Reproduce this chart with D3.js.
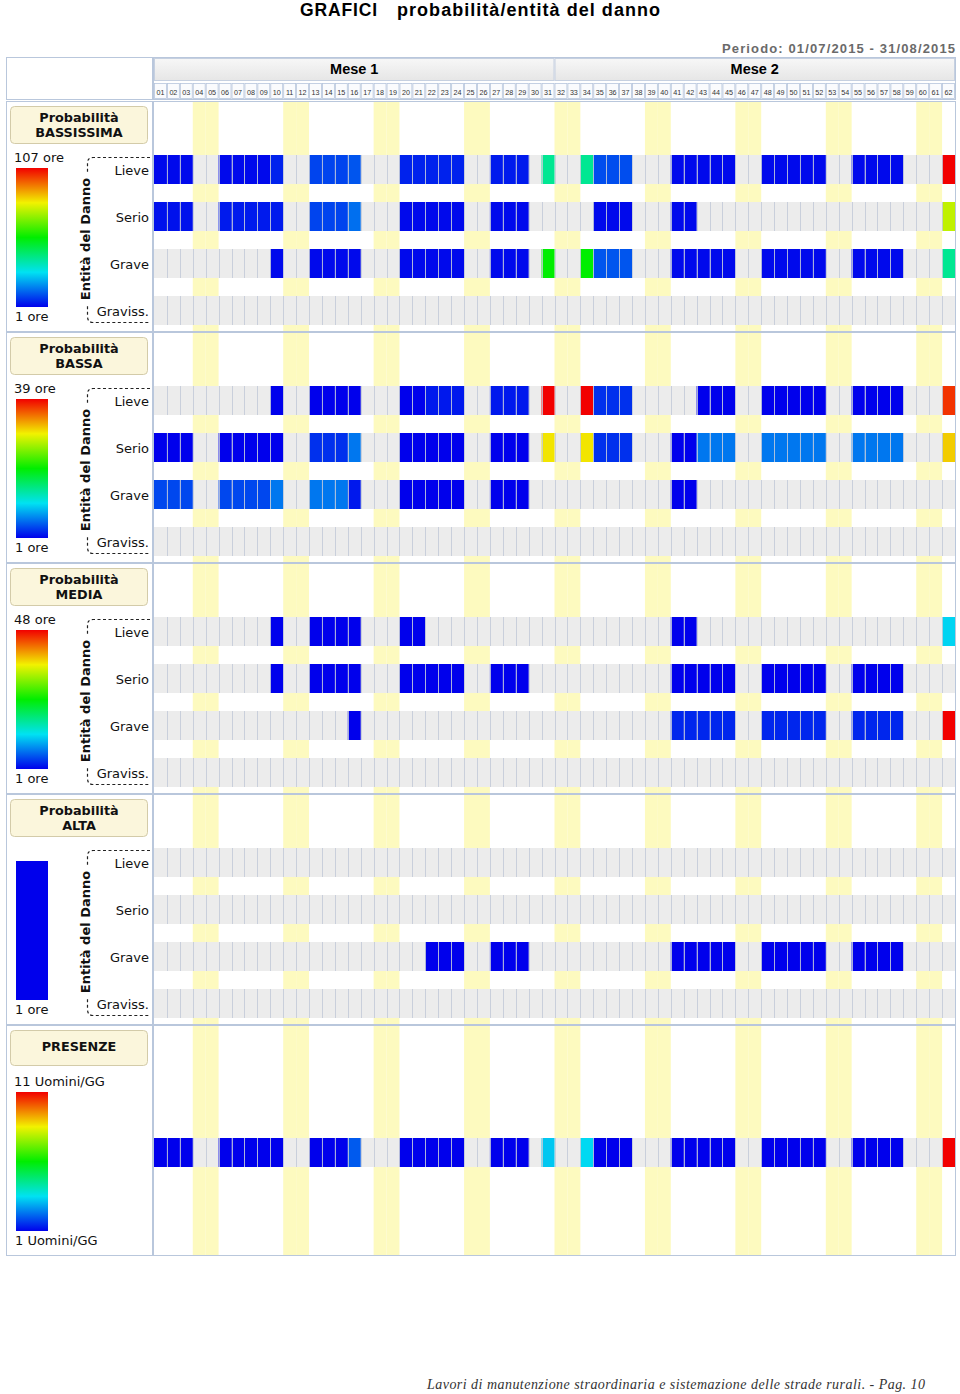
<!DOCTYPE html>
<html><head><meta charset="utf-8">
<script src="https://cdn.jsdelivr.net/npm/d3@7"></script>
<style>body{margin:0;background:#fff}svg{display:block}</style>
</head><body>
<svg id="c" width="960" height="1394"></svg>
<script>
// ---------- DATA ----------
const days = ["01","02","03","04","05","06","07","08","09","10","11","12","13","14","15","16","17","18","19","20","21","22","23","24","25","26","27","28","29","30","31",
              "32","33","34","35","36","37","38","39","40","41","42","43","44","45","46","47","48","49","50","51","52","53","54","55","56","57","58","59","60","61","62"];
const weekendDays = ["04","05","11","12","18","19","25","26","32","33","39","40","46","47","53","54","60","61"];
const months = ["Mese 1","Mese 2"];
const monthFirstDay = ["01","32"];
const monthLastDay = ["31","62"];
const damageLevels = ["Lieve","Serio","Grave","Graviss."];

const panelTitles = [["Probabilità","BASSISSIMA"],["Probabilità","BASSA"],["Probabilità","MEDIA"],["Probabilità","ALTA"],["PRESENZE"]];
const panelMax = [107,39,48,1,11];
const panelMaxLabels = ["107 ore","39 ore","48 ore","","11 Uomini/GG"];
const panelMinLabels = ["1 ore","1 ore","1 ore","1 ore","1 Uomini/GG"];

// Probabilità BASSISSIMA (ore)
const bassissimaLieve   = [2,2,2,0,0,2,2,2,2,5, 0,0,9,9,9,11,0,0,0,5, 5,5,5,5,0,0,4,4,4,0,38, 0,0,38,10,10,10,0,0,0,2, 2,2,2,2,0,0,2,2,2,2, 2,0,0,2,2,2,2,0,0,0,107];
const bassissimaSerio   = [3,3,3,0,0,4,4,4,4,4, 0,0,9,9,9,14,0,0,0,2, 2,2,2,2,0,0,2,2,2,0,0, 0,0,0,2,2,2,0,0,0,2, 2,0,0,0,0,0,0,0,0,0, 0,0,0,0,0,0,0,0,0,0,75];
const bassissimaGrave   = [0,0,0,0,0,0,0,0,0,2, 0,0,2,2,2,2,0,0,0,2, 2,2,2,2,0,0,2,2,2,0,54, 0,0,54,11,11,11,0,0,0,2, 2,2,2,2,0,0,2,2,2,2, 2,0,0,2,2,2,2,0,0,0,38];
const bassissimaGraviss = [0,0,0,0,0,0,0,0,0,0, 0,0,0,0,0,0,0,0,0,0, 0,0,0,0,0,0,0,0,0,0,0, 0,0,0,0,0,0,0,0,0,0, 0,0,0,0,0,0,0,0,0,0, 0,0,0,0,0,0,0,0,0,0,0];
// Probabilità BASSA (ore)
const bassaLieve   = [0,0,0,0,0,0,0,0,0,1, 0,0,1,1,1,1,0,0,0,1, 1,2,2,2,0,0,2,2,2,0,39, 0,0,39,3,3,3,0,0,0,0, 0,1,1,1,0,0,1,1,1,1, 1,0,0,1,1,1,1,0,0,0,37];
const bassaSerio   = [1,1,1,0,0,1,1,1,1,1, 0,0,3,3,3,6,0,0,0,1, 1,1,1,1,0,0,1,1,1,0,30, 0,0,30,3,3,3,0,0,0,1, 1,6,6,6,0,0,6,6,6,6, 6,0,0,6,6,6,6,0,0,0,31];
const bassaGrave   = [4,4,4,0,0,4,4,4,4,6, 0,0,6,6,6,2,0,0,0,1, 1,1,1,1,0,0,1,1,1,0,0, 0,0,0,0,0,0,0,0,0,1, 1,0,0,0,0,0,0,0,0,0, 0,0,0,0,0,0,0,0,0,0,0];
const bassaGraviss = [0,0,0,0,0,0,0,0,0,0, 0,0,0,0,0,0,0,0,0,0, 0,0,0,0,0,0,0,0,0,0,0, 0,0,0,0,0,0,0,0,0,0, 0,0,0,0,0,0,0,0,0,0, 0,0,0,0,0,0,0,0,0,0,0];
// Probabilità MEDIA (ore)
const mediaLieve   = [0,0,0,0,0,0,0,0,0,1, 0,0,1,1,1,1,0,0,0,1, 1,0,0,0,0,0,0,0,0,0,0, 0,0,0,0,0,0,0,0,0,1, 1,0,0,0,0,0,0,0,0,0, 0,0,0,0,0,0,0,0,0,0,12];
const mediaSerio   = [0,0,0,0,0,0,0,0,0,1, 0,0,1,1,1,1,0,0,0,1, 1,1,1,1,0,0,1,1,1,0,0, 0,0,0,0,0,0,0,0,0,1, 1,1,1,1,0,0,1,1,1,1, 1,0,0,1,1,1,1,0,0,0,0];
const mediaGrave   = [0,0,0,0,0,0,0,0,0,0, 0,0,0,0,0,1,0,0,0,0, 0,0,0,0,0,0,0,0,0,0,0, 0,0,0,0,0,0,0,0,0,3, 3,3,3,3,0,0,3,3,3,3, 3,0,0,3,3,3,3,0,0,0,48];
const mediaGraviss = [0,0,0,0,0,0,0,0,0,0, 0,0,0,0,0,0,0,0,0,0, 0,0,0,0,0,0,0,0,0,0,0, 0,0,0,0,0,0,0,0,0,0, 0,0,0,0,0,0,0,0,0,0, 0,0,0,0,0,0,0,0,0,0,0];
// Probabilità ALTA (ore)
const altaLieve   = [0,0,0,0,0,0,0,0,0,0, 0,0,0,0,0,0,0,0,0,0, 0,0,0,0,0,0,0,0,0,0,0, 0,0,0,0,0,0,0,0,0,0, 0,0,0,0,0,0,0,0,0,0, 0,0,0,0,0,0,0,0,0,0,0];
const altaSerio   = [0,0,0,0,0,0,0,0,0,0, 0,0,0,0,0,0,0,0,0,0, 0,0,0,0,0,0,0,0,0,0,0, 0,0,0,0,0,0,0,0,0,0, 0,0,0,0,0,0,0,0,0,0, 0,0,0,0,0,0,0,0,0,0,0];
const altaGrave   = [0,0,0,0,0,0,0,0,0,0, 0,0,0,0,0,0,0,0,0,0, 0,1,1,1,0,0,1,1,1,0,0, 0,0,0,0,0,0,0,0,0,1, 1,1,1,1,0,0,1,1,1,1, 1,0,0,1,1,1,1,0,0,0,0];
const altaGraviss = [0,0,0,0,0,0,0,0,0,0, 0,0,0,0,0,0,0,0,0,0, 0,0,0,0,0,0,0,0,0,0,0, 0,0,0,0,0,0,0,0,0,0, 0,0,0,0,0,0,0,0,0,0, 0,0,0,0,0,0,0,0,0,0,0];
// PRESENZE (Uomini/GG)
const presenze = [1,1,1,0,0,1,1,1,1,1, 0,0,1,1,1,2,0,0,0,1, 1,1,1,1,0,0,1,1,1,0,3.2, 0,0,3.4,1,1,1,0,0,0,1, 1,1,1,1,0,0,1,1,1,1, 1,0,0,1,1,1,1,0,0,0,11];

const panelRows = [
  [bassissimaLieve, bassissimaSerio, bassissimaGrave, bassissimaGraviss],
  [bassaLieve, bassaSerio, bassaGrave, bassaGraviss],
  [mediaLieve, mediaSerio, mediaGrave, mediaGraviss],
  [altaLieve, altaSerio, altaGrave, altaGraviss],
  [presenze]
];

// ---------- DRAW ----------
const svg = d3.select("#c");
const BORDER = "#b9c7dc";
const SANS = "'DejaVu Sans', Verdana, sans-serif";
const ARIAL = "'Liberation Sans', Arial, sans-serif";

const x = d3.scaleBand().domain(days).range([154, 955]);
const bw = x.bandwidth();
const jet = d3.scaleLinear().domain([0, .25, .5, .75, 1])
  .range(["#0000ec", "#00e2f2", "#00ee00", "#f2f200", "#f20000"]);

// gradient for legends
const defs = svg.append("defs");
const grad = defs.append("linearGradient").attr("id", "jet")
  .attr("x1", 0).attr("y1", 1).attr("x2", 0).attr("y2", 0);
grad.selectAll("stop").data(jet.domain()).join("stop")
  .attr("offset", d => d).attr("stop-color", d => jet(d));
const hdrGrad = defs.append("linearGradient").attr("id", "hdr")
  .attr("x1", 0).attr("y1", 0).attr("x2", 0).attr("y2", 1);
hdrGrad.append("stop").attr("offset", 0).attr("stop-color", "#f7f7f7");
hdrGrad.append("stop").attr("offset", 1).attr("stop-color", "#e6e6e6");

// Title
svg.append("text").attr("x", 300).attr("y", 16)
  .attr("font-family", ARIAL).attr("font-weight", "bold").attr("font-size", 17.5)
  .attr("textLength", 77).attr("lengthAdjust", "spacing").text("GRAFICI");
svg.append("text").attr("x", 397).attr("y", 16)
  .attr("font-family", ARIAL).attr("font-weight", "bold").attr("font-size", 18)
  .attr("textLength", 263).attr("lengthAdjust", "spacing").text("probabilità/entità del danno");

// Periodo
svg.append("text").attr("x", 955).attr("y", 53).attr("text-anchor", "end")
  .attr("font-family", ARIAL).attr("font-size", 13).attr("fill", "#6a6a6a").attr("font-weight", "bold")
  .attr("textLength", 233).attr("lengthAdjust", "spacing")
  .text("Periodo: 01/07/2015 - 31/08/2015");

// Header area
svg.append("rect").attr("x", 6.5).attr("y", 57.5).attr("width", 146).attr("height", 42)
  .attr("fill", "#fff").attr("stroke", BORDER);
svg.append("rect").attr("x", 153.5).attr("y", 57.5).attr("width", 802).attr("height", 42)
  .attr("fill", "#fff").attr("stroke", BORDER);

const mg = svg.append("g");
months.forEach((m, i) => {
  const x0 = x(monthFirstDay[i]), x1 = x(monthLastDay[i]) + bw;
  mg.append("rect").attr("x", x0 + 0.5).attr("y", 58.5).attr("width", x1 - x0 - 1).attr("height", 22)
    .attr("fill", "url(#hdr)").attr("stroke", "#c6d0e0");
  mg.append("text").attr("x", (x0 + x1) / 2).attr("y", 74).attr("text-anchor", "middle")
    .attr("font-family", ARIAL).attr("font-weight", "bold").attr("font-size", 14.5).text(m);
});

const dg = svg.append("g");
dg.selectAll("rect").data(days).join("rect")
  .attr("x", d => x(d) + 0.5).attr("y", 83.5).attr("width", bw - 1).attr("height", 15)
  .attr("fill", "#fafbfd").attr("stroke", "#b6c5dc").attr("stroke-width", 0.8);
dg.selectAll("text").data(days).join("text")
  .attr("x", d => x(d) + bw / 2).attr("y", 94.5).attr("text-anchor", "middle")
  .attr("font-family", ARIAL).attr("font-size", 7.2).attr("fill", "#333").text(d => d);

// Panels
const PANEL_TOP0 = 101, PANEL_STEP = 231, PANEL_H = 230;

panelRows.forEach((rows, p) => {
  const top = PANEL_TOP0 + p * PANEL_STEP;
  const g = svg.append("g");
  const isPres = rows.length === 1;

  // cells outline
  g.append("rect").attr("x", 6.5).attr("y", top + 0.5).attr("width", 146).attr("height", PANEL_H)
    .attr("fill", "#fff").attr("stroke", BORDER);
  g.append("rect").attr("x", 153.5).attr("y", top + 0.5).attr("width", 802).attr("height", PANEL_H)
    .attr("fill", "#fff").attr("stroke", BORDER);

  // weekend stripes
  g.selectAll("rect.we").data(weekendDays).join("rect").attr("class", "we")
    .attr("x", d => x(d)).attr("y", top + 1).attr("width", bw).attr("height", PANEL_H - 1)
    .attr("fill", "#fdfabf");

  // rows
  const labels = isPres ? ["PRESENZE"] : damageLevels;
  const y = isPres
    ? d3.scaleBand().domain(labels).range([top + 113, top + 142])
    : d3.scaleBand().domain(labels).range([top + 54, top + 54 + 4 * 47 - 18]).paddingInner(18 / 47).paddingOuter(0);
  const maxV = panelMax[p];
  const col = v => jet(maxV > 1 ? (v - 1) / (maxV - 1) : 0);

  rows.forEach((vals, r) => {
    const ry = y(labels[r]), rh = y.bandwidth();
    const rg = g.append("g");
    rg.append("rect").attr("x", 154).attr("y", ry).attr("width", 801).attr("height", rh).attr("fill", "#ececec");
    rg.selectAll("rect.c").data(days.map((d, i) => ({ d, v: vals[i] })).filter(o => o.v > 0))
      .join("rect").attr("class", "c")
      .attr("x", o => x(o.d)).attr("y", ry).attr("width", bw).attr("height", rh)
      .attr("fill", o => col(o.v));
    rg.selectAll("line").data(days.slice(1)).join("line")
      .attr("x1", d => Math.round(x(d)) + 0.5).attr("x2", d => Math.round(x(d)) + 0.5)
      .attr("y1", ry).attr("y2", ry + rh)
      .attr("stroke", "#c3cad8").attr("stroke-opacity", 0.85).attr("stroke-width", 1);

    if (!isPres) {
      g.append("text").attr("x", 149).attr("y", ry + rh / 2 + 5).attr("text-anchor", "end")
        .attr("font-family", SANS).attr("font-size", 13).attr("fill", "#111").text(labels[r]);
    }
  });

  // left legend box
  const t = panelTitles[p];
  g.append("rect").attr("x", 10.5).attr("y", top + 5.5).attr("width", 137).attr("height", t.length === 2 ? 37 : 35)
    .attr("rx", 4).attr("fill", "#fbf6dc").attr("stroke", "#d3cba9");
  t.forEach((line, i) => {
    g.append("text").attr("x", 79).attr("y", t.length === 2 ? top + 21 + i * 15 : top + 26)
      .attr("text-anchor", "middle").attr("font-family", SANS).attr("font-weight", "bold")
      .attr("font-size", 12.8).attr("fill", "#111").text(line);
  });

  // colour bar
  g.append("rect").attr("x", 16).attr("y", top + 67).attr("width", 32).attr("height", 139)
    .attr("fill", maxV > 1 ? "url(#jet)" : jet(0));
  if (panelMaxLabels[p]) {
    g.append("text").attr("x", 14).attr("y", top + 61).attr("font-family", SANS).attr("font-size", 13)
      .attr("fill", "#111").text(panelMaxLabels[p]);
  }
  g.append("text").attr("x", 15).attr("y", top + 220).attr("font-family", SANS).attr("font-size", 13)
    .attr("fill", "#111").text(panelMinLabels[p]);

  // bracket + axis title
  if (!isPres) {
    g.append("path")
      .attr("d", `M150,${top + 56.5} H93 Q87.5,${top + 56.5} 87.5,${top + 62} V${top + 215} Q87.5,${top + 221.5} 93,${top + 221.5} H150`)
      .attr("fill", "none").attr("stroke", "#222").attr("stroke-width", 1.2).attr("stroke-dasharray", "3,2.5");
    const cy = top + 138;
    g.append("rect").attr("x", 78).attr("y", cy - 66).attr("width", 16).attr("height", 132).attr("fill", "#fff");
    g.append("text").attr("transform", `translate(90,${cy}) rotate(-90)`).attr("text-anchor", "middle")
      .attr("font-family", SANS).attr("font-weight", "bold").attr("font-size", 13).attr("fill", "#111")
      .text("Entità del Danno");
  }
});

// footer
svg.append("text").attr("x", 925).attr("y", 1389).attr("text-anchor", "end")
  .attr("font-family", "'Liberation Serif', 'Times New Roman', serif").attr("font-style", "italic")
  .attr("font-size", 14).attr("fill", "#333").attr("textLength", 498).attr("lengthAdjust", "spacing")
  .text("Lavori di manutenzione straordinaria e sistemazione delle strade rurali. - Pag. 10");
</script>
</body></html>
